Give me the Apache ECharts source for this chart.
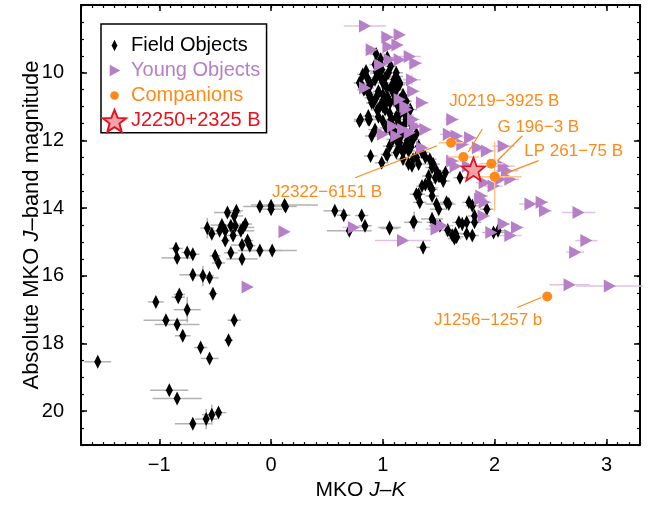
<!DOCTYPE html>
<html><head><meta charset="utf-8">
<script src="https://cdn.jsdelivr.net/npm/echarts@6/dist/echarts.min.js"></script>
<style>html,body{margin:0;padding:0;background:#fff}#c{width:649px;height:506px}</style>
</head><body><div id="c"></div>
<script>
// ---- data: [J-K, M_J, err(J-K), err(M_J)] ----
const fieldObjects = [
[-1.55,18.54,0.12,0.12],[-0.91,19.38,0.17,0.1],[-0.84,19.62,0.22,0.1],[-0.70,20.37,0.16,0.1],
[-0.58,20.23,0.1,0.3],[-0.53,20.10,0.09,0.3],[-0.47,20.04,0.07,0.12],[-1.03,16.77,0.07,0.1],
[-0.94,17.31,0.2,0.1],[-0.84,17.44,0.2,0.1],[-0.75,17.00,0.12,0.38],[-0.79,17.77,0.07,0.1],
[-0.83,16.63,0.06,0.12],[-0.82,16.55,0.05,0.12],[-0.63,18.12,0.06,0.1],[-0.55,18.44,0.08,0.1],
[-0.38,17.90,0.04,0.12],[-0.33,17.31,0.06,0.1],[-0.52,16.53,0.04,0.12],[-0.70,15.97,0.12,0.1],
[-0.61,16.00,0.1,0.3],[-0.55,16.06,0.08,0.1],[-0.85,15.19,0.06,0.15],[-0.84,15.47,0.14,0.1],
[-0.75,15.31,0.05,0.1],[-0.70,15.36,0.06,0.1],[-0.50,15.41,0.05,0.12],[-0.47,15.62,0.06,0.1],
[-0.36,15.32,0.06,0.1],[-0.26,15.50,0.14,0.1],[-0.26,15.09,0.1,0.1],[-0.10,15.25,0.2,0.1],
[0.01,15.25,0.22,0.1],[-0.21,14.96,0.05,0.1],[-0.19,15.11,0.05,0.1],[-0.57,14.59,0.06,0.3],
[-0.53,14.76,0.05,0.1],[-0.46,14.67,0.08,0.1],[-0.44,14.50,0.1,0.1],[-0.41,14.67,0.06,0.1],
[-0.41,14.96,0.04,0.1],[-0.36,14.52,0.12,0.1],[-0.34,14.81,0.06,0.1],[-0.32,14.52,0.06,0.1],
[-0.27,14.67,0.12,0.1],[-0.25,14.57,0.1,0.1],[-0.23,14.47,0.06,0.1],[-0.39,14.13,0.12,0.1],
[-0.33,14.23,0.08,0.1],[-0.31,14.08,0.06,0.1],[-0.10,13.95,0.15,0.08],[0.00,13.93,0.1,0.1],
[0.00,14.03,0.1,0.1],[0.12,13.91,0.3,0.08],[0.13,13.95,0.1,0.08],
[0.57,14.08,0.1,0.1],[0.65,14.21,0.06,0.1],[0.70,14.67,0.2,0.1],[0.81,14.22,0.06,0.1],
[0.84,14.52,0.06,0.1],[1.06,14.57,0.1,0.1],[1.28,14.40,0.05,0.3],
[0.94,9.45,0.06,0.1],[0.975,9.72,0.05,0.1],[0.99,9.91,0.05,0.1],[1.05,10.0,0.06,0.1],
[1.07,9.81,0.05,0.1],[1.12,10.0,0.06,0.1],[1.15,10.3,0.06,0.1],[1.12,10.5,0.05,0.1],
[0.945,10.70,0.05,0.1],[1.005,10.79,0.06,0.1],[1.065,10.89,0.05,0.1],[1.095,10.60,0.05,0.1],
[1.155,10.79,0.06,0.1],[1.185,10.99,0.06,0.1],[1.245,11.09,0.06,0.12],[1.155,11.19,0.05,0.1],
[1.21,11.38,0.06,0.1],[1.185,11.58,0.05,0.1],[1.245,11.77,0.06,0.1],[1.27,11.97,0.06,0.1],
[1.32,12.17,0.06,0.1],[0.93,9.76,0.05,0.1],[0.945,10.01,0.06,0.1],[0.975,10.11,0.05,0.1],
[1.005,10.30,0.05,0.1],[1.035,10.45,0.06,0.1],[1.08,10.5,0.05,0.1],[1.11,10.3,0.05,0.1],
[1.12,10.11,0.06,0.1],[1.15,10.35,0.05,0.1],[1.18,10.65,0.06,0.1],[1.21,10.84,0.05,0.1],
[1.15,10.99,0.06,0.1],[0.87,11.38,0.1,0.1],[0.80,11.38,0.06,0.1],[0.93,11.68,0.06,0.1],
[0.90,11.87,0.06,0.1],[1.0,11.43,0.05,0.1],[1.03,11.63,0.06,0.1],[1.08,11.77,0.05,0.1],
[1.09,11.97,0.06,0.1],[1.15,12.17,0.05,0.1],[1.18,12.36,0.06,0.1],[1.12,12.36,0.05,0.1],
[1.06,12.17,0.06,0.1],[1.08,11.38,0.05,0.1],[1.09,11.58,0.05,0.1],[1.05,11.53,0.06,0.1],
[1.14,11.48,0.05,0.1],[1.02,11.09,0.05,0.1],[1.03,10.89,0.06,0.1],[0.975,10.99,0.05,0.1],
[0.915,10.89,0.06,0.1],[0.886,10.74,0.05,0.1],[0.87,10.6,0.05,0.1],[0.83,10.5,0.06,0.1],
[0.80,10.30,0.06,0.1],[0.79,10.30,0.05,0.1],[0.87,10.45,0.05,0.1],[0.88,10.65,0.06,0.1],
[0.90,10.89,0.05,0.1],[0.93,10.21,0.06,0.1],[0.945,9.96,0.05,0.1],[1.0,10.3,0.05,0.1],
[0.89,12.46,0.06,0.1],[1.03,12.41,0.05,0.1],[0.99,12.66,0.06,0.1],[1.04,12.44,0.05,0.1],
[0.79,11.43,0.05,0.1],[0.88,11.38,0.05,0.1],[1.12,11.97,0.06,0.1],[1.15,12.07,0.05,0.1],
[1.17,11.82,0.05,0.1],[1.11,11.77,0.06,0.1],[0.87,11.28,0.05,0.1],
[0.82,10.05,0.05,0.1],[0.86,10.15,0.06,0.1],[0.89,10.35,0.05,0.1],[0.96,10.55,0.05,0.1],
[1.0,10.65,0.06,0.1],[1.04,10.7,0.05,0.1],[1.1,10.8,0.05,0.1],[1.13,10.95,0.06,0.1],
[1.17,11.1,0.05,0.1],[1.2,11.25,0.06,0.1],[1.06,11.2,0.05,0.1],[1.0,11.0,0.05,0.1],
[0.95,11.1,0.06,0.1],[0.96,11.3,0.05,0.1],[1.12,11.3,0.05,0.1],[1.25,11.5,0.06,0.1],
[1.3,11.8,0.05,0.1],[1.22,12.0,0.06,0.1],[1.25,12.2,0.05,0.1],[1.35,12.35,0.06,0.1],
[1.3,12.5,0.05,0.1],[1.18,12.55,0.06,0.1],[1.38,12.5,0.05,0.1],[1.45,12.7,0.06,0.1],
[1.1,10.2,0.05,0.1],[1.02,10.15,0.05,0.1],[1.08,10.38,0.06,0.1],[0.85,9.95,0.05,0.1],
[0.98,9.6,0.05,0.1],[1.04,9.55,0.06,0.1],
[1.32,13.59,0.06,0.1],[1.35,13.35,0.05,0.1],[1.38,13.30,0.06,0.1],[1.41,13.25,0.05,0.1],
[1.43,13.40,0.06,0.1],[1.44,13.45,0.05,0.1],[1.47,13.10,0.06,0.1],[1.50,13.05,0.05,0.1],
[1.54,13.20,0.06,0.1],[1.56,12.95,0.05,0.1],[1.41,13.05,0.06,0.1],[1.69,13.10,0.06,0.1],
[1.27,14.42,0.08,0.15],[1.06,14.60,0.08,0.1],[1.36,15.16,0.06,0.2],[1.44,14.32,0.1,0.2],
[1.45,14.42,0.06,0.1],[1.47,14.52,0.06,0.1],[1.48,13.88,0.1,0.1],[1.59,13.88,0.06,0.1],
[1.57,13.83,0.06,0.1],[1.58,14.65,0.06,0.2],[1.62,14.80,0.06,0.1],[1.64,14.90,0.06,0.1],
[1.65,14.75,0.06,0.1],[1.66,14.85,0.06,0.1],[1.68,14.42,0.06,0.1],[1.71,14.47,0.06,0.2],
[1.75,14.42,0.1,0.1],[1.77,13.83,0.06,0.1],[1.80,13.93,0.06,0.1],[1.75,14.76,0.06,0.1],
[1.80,14.81,0.06,0.1],[1.82,14.23,0.06,0.2],[1.82,14.42,0.06,0.1],[1.93,14.03,0.06,0.1],
[1.99,14.72,0.1,0.1],[2.03,14.67,0.06,0.1],[1.30,13.59,0.06,0.1],[1.33,13.83,0.06,0.1],
[1.44,13.64,0.06,0.1],[1.48,12.90,0.06,0.1],[1.51,13.05,0.06,0.1],[1.42,12.56,0.06,0.1],
[1.44,12.80,0.06,0.1],[1.23,12.70,0.06,0.1],[1.26,12.75,0.06,0.1],[1.32,12.70,0.06,0.1],
[1.20,12.17,0.06,0.1],[1.23,12.31,0.06,0.1],[1.27,12.56,0.06,0.1],[1.50,14.03,0.08,0.1],
[1.51,14.52,0.06,0.1]
];
const youngObjects = [
[0.84,8.62,0.19,0.05],[1.04,8.95,0.06,0.1],[1.15,8.88,0.05,0.1],[1.13,9.18,0.05,0.1],
[1.05,9.23,0.05,0.1],[0.90,9.32,0.06,0.1],[1.06,9.62,0.05,0.1],[1.15,9.62,0.06,0.1],
[1.24,9.52,0.1,0.1],[1.29,9.72,0.06,0.1],[1.26,10.21,0.08,0.15],[1.27,10.55,0.06,0.1],
[1.35,10.89,0.06,0.1],[1.15,10.79,0.06,0.1],[1.20,10.99,0.06,0.1],[1.21,11.09,0.06,0.1],
[0.84,10.45,0.06,0.1],[0.975,9.77,0.06,0.1],[1.27,11.38,0.06,0.15],[1.29,11.58,0.06,0.1],
[1.18,11.68,0.06,0.1],[1.24,11.77,0.06,0.1],[1.38,11.68,0.06,0.1],[1.09,11.58,0.06,0.1],
[1.12,11.87,0.06,0.1],[1.0,11.82,0.06,0.1],[1.35,12.22,0.06,0.1],[1.62,11.38,0.06,0.1],
[1.59,11.82,0.08,0.1],[1.66,11.87,0.06,0.1],[1.78,11.92,0.06,0.1],[1.71,12.12,0.06,0.1],
[1.85,12.22,0.08,0.1],[1.93,12.31,0.08,0.1],[2.08,12.17,0.1,0.1],[2.08,12.76,0.1,0.1],
[2.11,12.90,0.1,0.1],[1.76,12.76,0.06,0.1],[1.65,12.76,0.06,0.1],[1.62,12.61,0.06,0.1],
[1.91,13.25,0.08,0.1],[1.99,13.35,0.08,0.1],[2.05,13.15,0.08,0.1],[2.14,13.15,0.08,0.1],
[1.87,13.74,0.06,0.1],[1.91,13.83,0.06,0.1],[1.88,13.64,0.06,0.1],[1.90,14.23,0.06,0.1],
[1.48,14.62,0.1,0.1],[1.53,14.52,0.1,0.1],[1.18,14.96,0.25,0.1],[0.74,14.57,0.1,0.1],
[1.97,14.72,0.06,0.1],[2.08,14.47,0.06,0.1],[2.20,14.57,0.06,0.1],[2.32,13.88,0.1,0.1],
[2.42,13.83,0.06,0.1],[2.45,14.08,0.06,0.1],[2.75,14.13,0.15,0.1],[2.82,14.96,0.1,0.1],
[2.72,15.30,0.08,0.1],[2.14,14.81,0.1,0.1],[0.12,14.70,0.05,0.05],[-0.21,16.33,0.05,0.05],
[2.67,16.26,0.18,0.05],[3.03,16.30,0.3,0.05]
];
const companionNames = ['J2322\u22126151 B','J0219\u22123925 B','G 196\u22123 B','LP 261\u221275 B','J1256\u22121257 b'];
const companions = [
[1.61,12.07,0.11,0.05],[1.72,12.49,0.14,0.05],[1.97,12.69,0.11,0.05],[2.00,13.07,0.24,1.03],[2.47,16.61,0,0]
];
const targetName = 'J2250+2325 B';
const target = [[1.81,12.85,0,0]];
const xTickLabels = [-1,0,1,2,3];
const yTickLabels = [10,12,14,16,18,20];

// ---- layout / style (not data) ----
const annotLayout = [ // label centre offset and leader line offsets, in px from the point
  {dx:-124,dy:50,l:[-96,35,-14,3]},
  {dx:41,dy:-56,l:[5,-5,19,-28]},
  {dx:47,dy:-36,l:[6,-3,31,-28]},
  {dx:79,dy:-25,l:[10,-3,44,-16]},
  {dx:-59,dy:24,l:[-30,11,-6,1]}
];
const FONT = 'Liberation Sans';
const PURPLE = '#b77fc7', PURPLE_L = '#dcc3e4', ORANGE = '#ff8a17', ORANGE_L = '#ffc48a', RED = '#e5131d', GRAY = '#b2b2b2';
const xMinor = [], yMinor = [];
for (let i = -17; i <= 33; i++) xMinor.push(+(i / 10).toFixed(1));
for (let i = 16; i <= 42; i++) yMinor.push(i / 2);

const STAR = 'path://M0,-10L2.6,-3.4L9.5,-3.1L4.1,1.3L5.9,8.1L0,4.3L-5.9,8.1L-4.1,1.3L-9.5,-3.1L-2.6,-3.4Z';
const TRI = 'path://M0,0L11,6L0,12Z';

function errRender(color, w) {
  return function (params, api) {
    const x = api.value(0), y = api.value(1), xe = api.value(2), ye = api.value(3);
    const ch = [];
    if (xe > 0) { const a = api.coord([x - xe, y]), b = api.coord([x + xe, y]);
      ch.push({type:'line', shape:{x1:a[0],y1:a[1],x2:b[0],y2:b[1]}, style:{stroke:color,lineWidth:w}}); }
    if (ye > 0) { const a = api.coord([x, y - ye]), b = api.coord([x, y + ye]);
      ch.push({type:'line', shape:{x1:a[0],y1:a[1],x2:b[0],y2:b[1]}, style:{stroke:color,lineWidth:w}}); }
    return {type:'group', children: ch};
  };
}
function annotRender(params, api) {
  const p = api.coord([api.value(0), api.value(1)]);
  const L = annotLayout[params.dataIndex];
  return {type:'group', children:[
    {type:'line', shape:{x1:p[0]+L.l[0],y1:p[1]+L.l[1],x2:p[0]+L.l[2],y2:p[1]+L.l[3]}, style:{stroke:ORANGE,lineWidth:1.2}},
    {type:'text', x:p[0]+L.dx, y:p[1]+L.dy, style:{text:companionNames[params.dataIndex], fill:ORANGE, font:'17px "'+FONT+'"', align:'center', verticalAlign:'middle'}}
  ]};
}
const fmt = v => String(v).replace('-', '\u2212');
const baseX = {min:-1.7, max:3.3, type:'value', splitLine:{show:false}};
const baseY = {min:8, max:21, type:'value', inverse:true, splitLine:{show:false}};
const line = {show:true, onZero:false, lineStyle:{color:'#000', width:2}};
const noLine = {show:false, onZero:false};
const option = {
  animation:false,
  backgroundColor:'#fff',
  grid:{left:81, right:9, top:5, bottom:59},
  legend:{
    orient:'vertical', left:101, top:24, selectedMode:false,
    borderColor:'#000', borderWidth:1.5, padding:[10,6,0,1],
    itemWidth:23, itemHeight:23, itemGap:2,
    textStyle:{fontFamily:FONT, fontSize:20},
    data:[
      {name:'Field Objects', icon:'path://M12,6L15,12L12,18L9,12Z M0,0 M24,24', textStyle:{color:'#000'}},
      {name:'Young Objects', icon:'path://M7,6L18,12L7,18Z M0,0 M24,24', textStyle:{color:PURPLE}},
      {name:'Companions', icon:'path://M7.5,12A4.5,4.5 0 1 1 16.5,12A4.5,4.5 0 1 1 7.5,12Z M0,0 M24,24', textStyle:{color:ORANGE}},
      {name:targetName, icon:'path://M12,1L14.9,8.2L22.5,8.6L16.5,13.4L18.5,20.8L12,16.6L5.5,20.8L7.5,13.4L1.5,8.6L9.1,8.2Z', textStyle:{color:RED}}
    ]
  },
  xAxis:[
    Object.assign({}, baseX, {position:'bottom', axisLine:line,
      axisTick:{inside:true, length:6, lineStyle:{color:'#000',width:1.5}, customValues:xTickLabels},
      axisLabel:{customValues:xTickLabels, formatter:fmt, color:'#000', fontFamily:FONT, fontSize:20, margin:10},
      name:'{n|MKO }{i|J}{n|\u2013}{i|K}', nameLocation:'middle', nameGap:31,
      nameTextStyle:{fontFamily:FONT, fontSize:21, color:'#000', rich:{n:{fontFamily:FONT,fontSize:21,color:'#000'}, i:{fontFamily:FONT,fontSize:21,fontStyle:'italic',color:'#000'}}}}),
    Object.assign({}, baseX, {position:'bottom', axisLine:noLine,
      axisTick:{inside:true, length:3, lineStyle:{color:'#000',width:1.2}, customValues:xMinor}, axisLabel:{show:false}}),
    Object.assign({}, baseX, {position:'top', axisLine:line,
      axisTick:{inside:true, length:6, lineStyle:{color:'#000',width:1.5}, customValues:xTickLabels}, axisLabel:{show:false}}),
    Object.assign({}, baseX, {position:'top', axisLine:noLine,
      axisTick:{inside:true, length:3, lineStyle:{color:'#000',width:1.2}, customValues:xMinor}, axisLabel:{show:false}})
  ],
  yAxis:[
    Object.assign({}, baseY, {position:'left', axisLine:line,
      axisTick:{inside:true, length:6, lineStyle:{color:'#000',width:1.5}, customValues:yTickLabels},
      axisLabel:{customValues:yTickLabels, color:'#000', fontFamily:FONT, fontSize:20, margin:17},
      name:'Absolute MKO {i|J}\u2013band magnitude', nameLocation:'middle', nameGap:38, nameMoveOverlap:false,
      nameTextStyle:{fontFamily:FONT, fontSize:22, color:'#000', rich:{i:{fontFamily:FONT,fontSize:22,fontStyle:'italic',color:'#000'}}}}),
    Object.assign({}, baseY, {position:'left', axisLine:noLine,
      axisTick:{inside:true, length:3, lineStyle:{color:'#000',width:1.2}, customValues:yMinor}, axisLabel:{show:false}}),
    Object.assign({}, baseY, {position:'right', axisLine:line,
      axisTick:{inside:true, length:6, lineStyle:{color:'#000',width:1.5}, customValues:yTickLabels}, axisLabel:{show:false}}),
    Object.assign({}, baseY, {position:'right', axisLine:noLine,
      axisTick:{inside:true, length:3, lineStyle:{color:'#000',width:1.2}, customValues:yMinor}, axisLabel:{show:false}})
  ],
  series:[
    {type:'custom', name:'fe', data:fieldObjects, renderItem:errRender(GRAY,1.5), encode:{x:0,y:1}, z:1, silent:true},
    {type:'custom', name:'ye', data:youngObjects, renderItem:errRender(PURPLE_L,1.5), encode:{x:0,y:1}, z:1, silent:true},
    {type:'scatter', name:'Field Objects', data:fieldObjects, symbol:'diamond', symbolSize:[7,14], itemStyle:{color:'#000', opacity:1}, encode:{x:0,y:1}, z:2},
    {type:'scatter', name:'Young Objects', data:youngObjects, symbol:TRI, symbolSize:[12,13], itemStyle:{color:PURPLE, opacity:1}, encode:{x:0,y:1}, z:3},
    {type:'custom', name:'ce', data:companions, renderItem:errRender(ORANGE_L,1.5), encode:{x:0,y:1}, z:4, silent:true},
    {type:'custom', name:'ca', data:companions, renderItem:annotRender, encode:{x:0,y:1}, z:5, silent:true, clip:false},
    {type:'scatter', name:'Companions', data:companions, symbol:'circle', symbolSize:10, itemStyle:{color:ORANGE, opacity:1}, encode:{x:0,y:1}, z:6},
    {type:'scatter', name:targetName, data:target, symbol:STAR, symbolSize:23, itemStyle:{color:'#f4a3aa', borderColor:RED, borderWidth:1.8, opacity:1}, encode:{x:0,y:1}, z:7}
  ]
};
const chart = echarts.init(document.getElementById('c'), null, {renderer:'canvas'});
chart.setOption(option);
</script></body></html>
